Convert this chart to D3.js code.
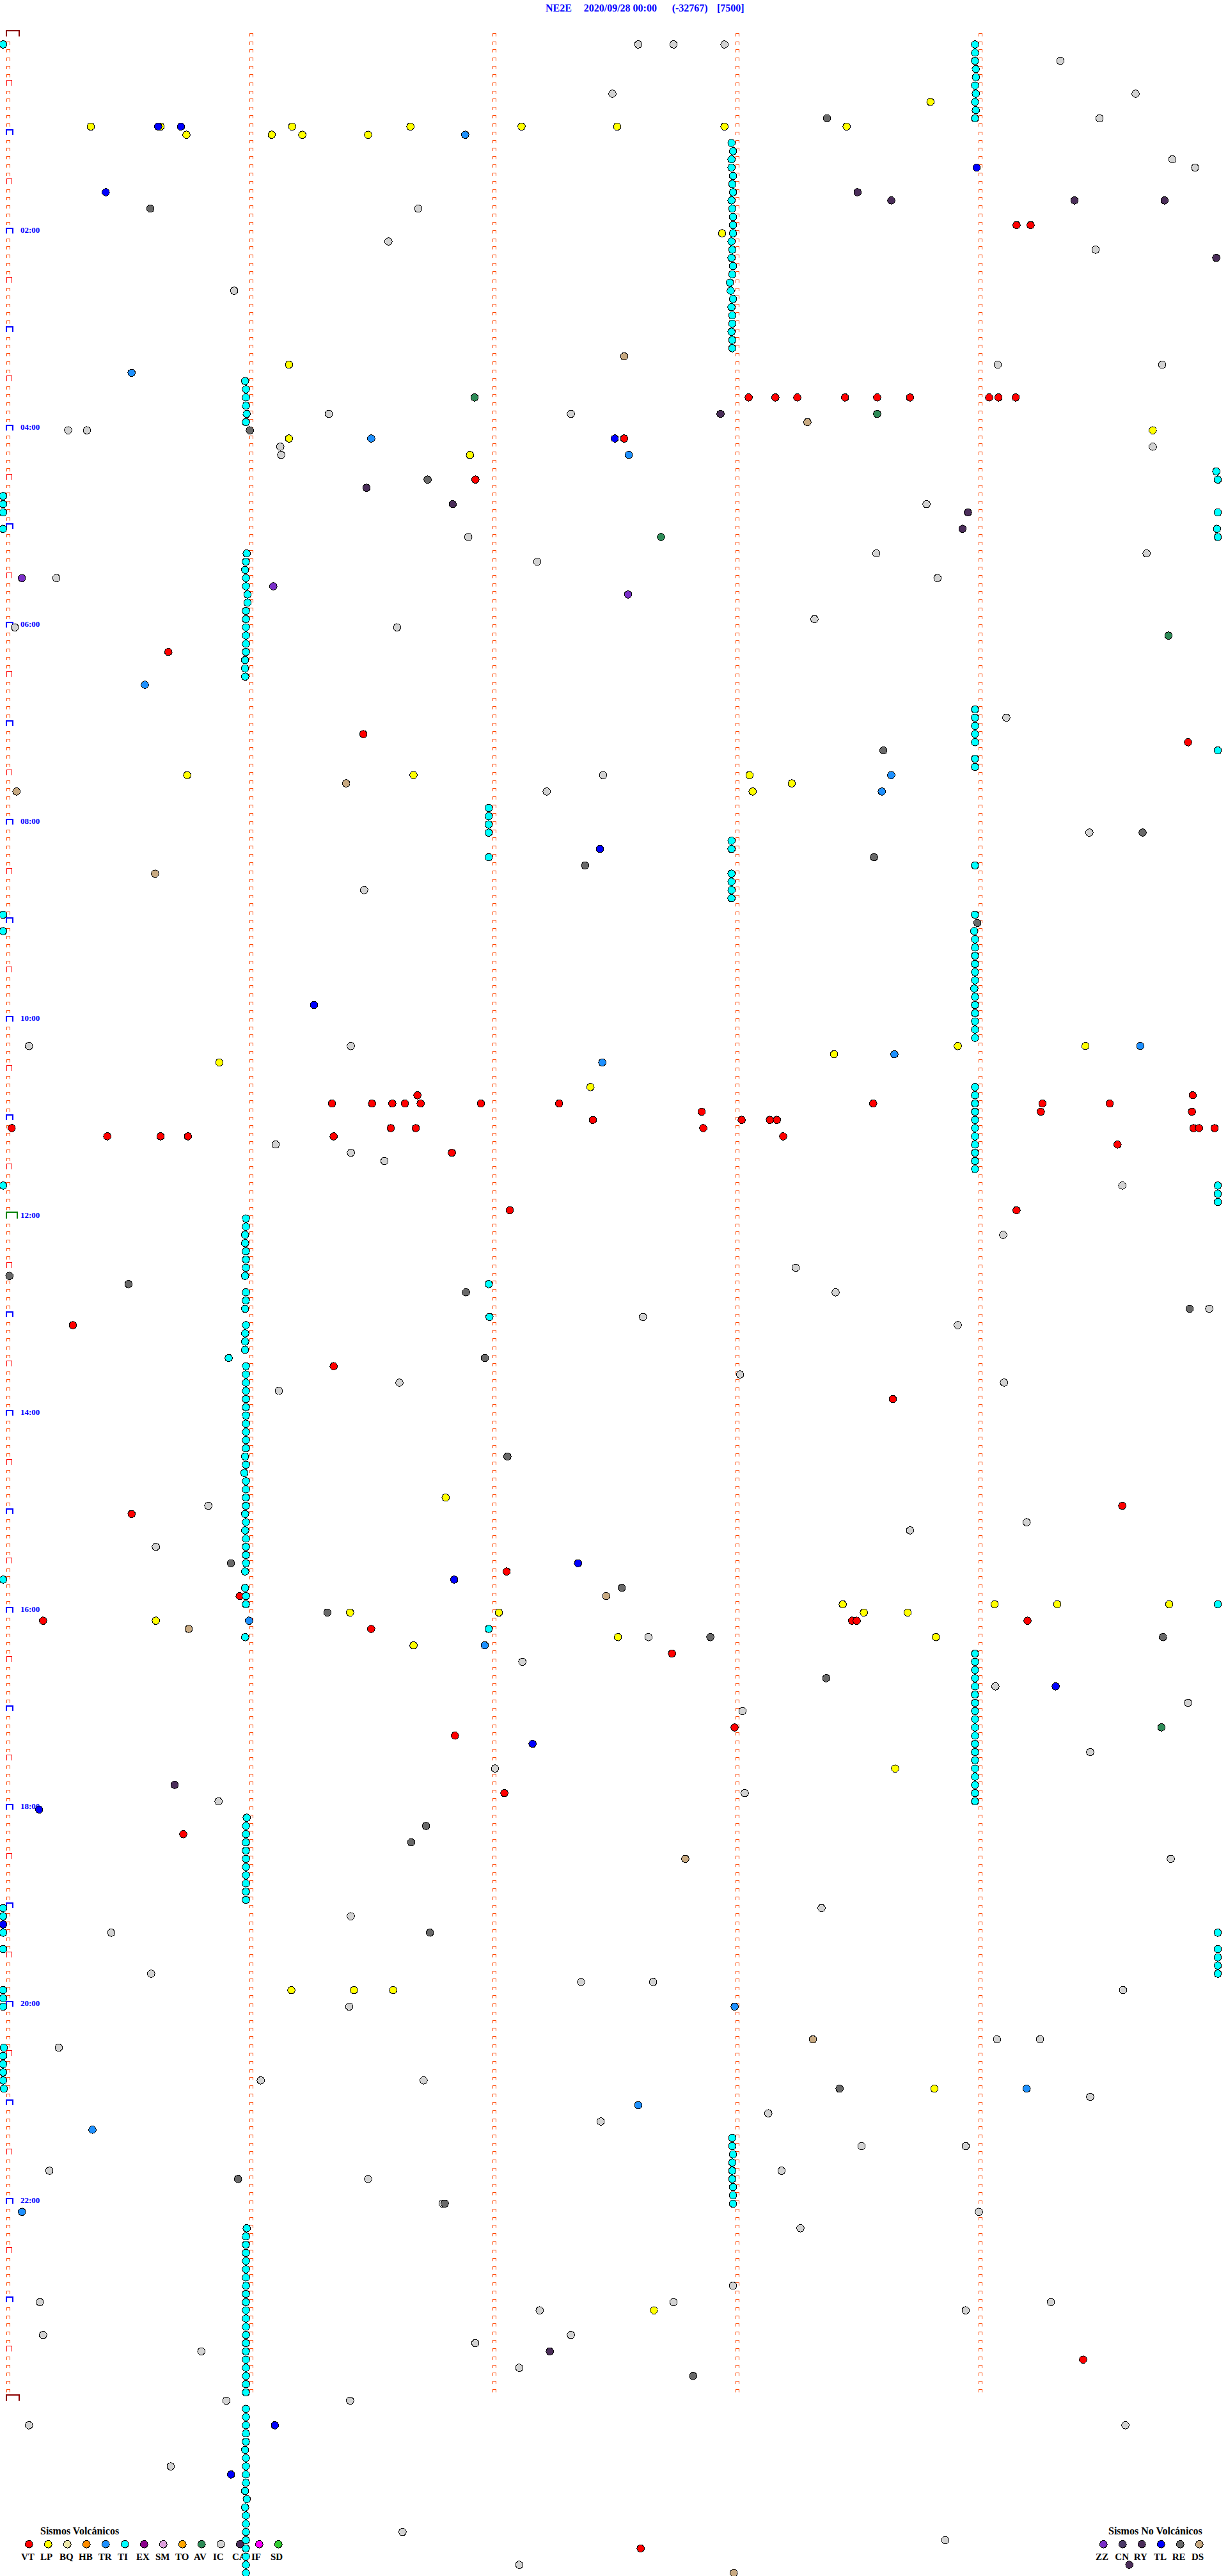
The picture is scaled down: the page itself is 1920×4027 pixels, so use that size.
<!DOCTYPE html>
<html><head><meta charset="utf-8">
<script src="https://cdn.jsdelivr.net/npm/d3@7/dist/d3.min.js"></script>
<style>html,body{margin:0;padding:0;background:#fff}svg{display:block}text{font-family:"Liberation Serif",serif}</style>
</head><body><div id="c"></div>
<script>
// Each event: [row (5-minute line index from 00:00), position along the line in reading units 0..1568]
const IC=[[0,815],[0,860],[0,925],[2,1354],[6,782],[6,1450],[9,1404],[14,1497],[15,1526],[20,534],[24,496],[25,1399],[30,299],[39,1274],[39,1484],[45,420],[45,729],[47,87],[47,111],[49,358],[49,1472],[50,359],[56,1183],[60,598],[62,1119],[62,1464],[63,686],[65,72],[65,1197],[70,1040],[71,19],[71,507],[82,1285],[89,770],[91,698],[96,1391],[103,465],[122,37],[122,448],[134,352],[135,448],[136,491],[139,1433],[145,1281],[149,1016],[152,1067],[154,1544],[155,821],[156,1223],[162,945],[163,510],[163,1282],[164,356],[178,266],[180,1311],[181,1162],[183,199],[194,828],[197,667],[200,1271],[202,1517],[203,948],[208,1392],[210,632],[213,951],[214,279],[221,1495],[227,1049],[228,448],[230,142],[235,193],[236,742],[236,834],[237,1434],[239,446],[243,1273],[243,1328],[244,75],[248,333],[248,541],[250,1392],[252,981],[253,767],[256,1100],[256,1233],[259,63],[259,998],[260,470],[263,565],[264,1250],[266,1022],[273,936],[275,51],[275,860],[275,1342],[276,689],[276,1233],[279,55],[279,729],[280,607],[281,257],[283,663],[287,289],[287,447],[290,37],[290,1437],[295,218],[303,514],[304,1207],[307,663]];
const LP=[[7,1188],[10,116],[10,205],[10,373],[10,524],[10,666],[10,788],[10,925],[10,1081],[11,238],[11,347],[11,386],[11,470],[23,922],[39,369],[47,1472],[48,369],[50,600],[89,239],[89,528],[89,957],[90,1011],[91,961],[122,1223],[122,1386],[123,1065],[124,280],[127,754],[177,569],[190,1076],[190,1270],[190,1350],[190,1493],[191,447],[191,637],[191,1103],[191,1159],[192,199],[194,789],[194,1195],[195,528],[210,1143],[237,372],[237,452],[237,502],[249,1193],[276,835]];
const VT=[[22,1298],[22,1316],[43,956],[43,990],[43,1018],[43,1079],[43,1120],[43,1162],[43,1263],[43,1275],[43,1297],[48,797],[53,607],[74,215],[84,464],[85,1517],[128,533],[128,1523],[129,424],[129,475],[129,501],[129,517],[129,537],[129,614],[129,714],[129,1115],[129,1331],[129,1417],[130,896],[130,1329],[130,1522],[131,757],[131,947],[131,983],[131,992],[132,15],[132,499],[132,531],[132,898],[132,1524],[132,1531],[132,1551],[133,137],[133,205],[133,240],[133,426],[133,1000],[134,1427],[135,577],[142,651],[142,1298],[156,93],[161,426],[165,1140],[178,1433],[179,168],[186,647],[189,306],[192,55],[192,1088],[192,1094],[192,1312],[193,474],[196,858],[205,938],[206,581],[213,644],[218,234],[282,1383],[305,818]];
const TI=[[0,4],[0,1245],[1,1245],[2,1245],[3,1246],[4,1246],[5,1245],[6,1246],[7,1245],[8,1246],[9,1245],
[12,934],[13,936],[14,934],[15,934],[16,936],[17,935],[18,936],[19,934],[20,935],[21,936],[22,936],[23,936],[24,934],[25,935],[26,934],[27,936],[28,935],[29,932],[30,933],[31,936],[32,934],[33,935],[34,935],[35,934],[36,935],[37,935],
[41,313],[42,314],[43,314],[44,314],[45,315],[46,314],[52,1553],[53,1555],[55,4],[56,4],[57,4],[57,1555],[59,4],[59,1554],[60,1555],
[62,315],[63,314],[64,313],[65,314],[66,314],[67,316],[68,316],[69,314],[70,314],[71,314],[72,314],[73,314],[74,314],[75,313],[76,313],[77,313],
[81,1245],[82,1245],[83,1245],[84,1245],[85,1245],[86,1555],[87,1245],[88,1245],[93,624],[94,624],[95,624],[96,624],[97,934],[98,934],[99,624],[100,1245],[101,934],[102,934],[103,934],[104,934],
[106,4],[106,1245],[108,4],[108,1244],[109,1245],[110,1245],[111,1245],[112,1245],[113,1245],[114,1245],[115,1244],[116,1245],[117,1245],[118,1245],[119,1245],[120,1245],[121,1245],
[127,1245],[128,1245],[129,1245],[130,1245],[131,1245],[132,1245],[133,1245],[134,1245],[135,1245],[136,1245],[137,1245],[139,4],[139,1555],[140,1555],[141,1555],
[143,314],[144,314],[145,313],[146,313],[147,314],[148,314],[149,314],[150,313],[151,624],[152,314],[153,314],[154,313],[155,625],[156,314],[157,313],[158,313],[159,313],[160,292],
[161,314],[162,314],[163,314],[164,314],[165,314],[166,314],[167,314],[168,314],[169,314],[170,314],[171,314],[172,313],[173,314],[174,312],[175,314],[176,314],[177,314],[178,314],[179,313],[180,314],[181,313],[182,314],[183,314],[184,314],[185,314],[186,313],[187,4],[188,313],[189,314],[190,314],[190,1555],[193,624],[194,313],
[196,1245],[197,1245],[198,1245],[199,1245],[200,1245],[201,1245],[202,1245],[203,1245],[204,1245],[205,1245],[206,1245],[207,1245],[208,1245],[209,1245],[210,1245],[211,1245],[212,1245],[213,1245],[214,1245],
[216,315],[217,314],[218,314],[219,314],[220,314],[221,314],[222,314],[223,314],[224,314],[225,314],[226,314],[227,4],[228,4],[230,4],[230,1555],[232,4],[232,1555],[233,1555],[234,1555],[235,1555],[237,4],[238,4],[239,4],[244,5],[245,4],[246,4],[247,4],[248,4],[249,5],
[255,935],[256,935],[257,936],[258,935],[259,935],[260,935],[261,936],[262,936],[263,936],
[266,315],[267,314],[268,314],[269,314],[270,314],[271,314],[272,314],[273,314],[274,314],[275,314],[276,314],[277,314],[278,314],[279,314],[280,314],[281,314],[282,314],[283,314],[284,314],[285,314],[286,314],
[288,314],[289,314],[290,314],[291,314],[292,314],[293,313],[294,314],[295,314],[296,314],[297,314],[298,313],[299,315],[300,313],[301,314],[302,314],[303,314],[304,314],[305,314],[306,314],[307,314],[308,314]];
const TR=[[11,594],[40,168],[48,474],[50,803],[78,185],[89,1138],[91,1126],[122,1456],[123,1142],[124,769],[192,318],[195,619],[239,938],[249,1311],[251,815],[254,118],[264,28]];
const AV=[[43,606],[45,1120],[60,844],[72,1492],[205,1483]];
const RY=[[18,1095],[19,1138],[19,1372],[19,1487],[26,1553],[45,920],[54,468],[56,578],[57,1236],[59,1229],[212,223],[281,702],[307,1442]];
const ZZ=[[65,28],[66,349],[67,802]];
const TL=[[10,202],[10,231],[15,1247],[18,135],[48,785],[98,766],[117,401],[185,738],[187,580],[200,1348],[207,680],[215,50],[229,4],[290,351],[296,295]];
const RE=[[9,1056],[20,192],[47,319],[53,546],[86,1128],[96,1459],[99,1116],[100,747],[107,1248],[150,12],[151,164],[152,595],[154,1519],[160,619],[172,648],[185,295],[188,794],[191,418],[194,907],[194,1485],[199,1055],[217,544],[219,525],[230,549],[249,1072],[260,304],[263,568],[284,885]];
const DS=[[38,797],[46,1031],[90,442],[91,21],[101,198],[189,774],[193,241],[221,875],[243,1038],[308,937]];

const volcNames=["VT","LP","BQ","HB","TR","TI","EX","SM","TO","AV","IC","CA","IF","SD"];
const volcColors=["#ff0000","#ffff00","#eee8aa","#ff8c00","#1e90ff","#00ffff","#8b008b","#dda0dd","#ffa500","#2e8b57","#d3d3d3","#4b2e5a","#ff00ff","#32cd32"];
const tectNames=["ZZ","CN","RY","TL","RE","DS"];
const tectColors=["#7a2fc8","#4b3a68","#4b2e5a","#0000ff","#696969","#c8aa82"];
const minuteMarks=[10.6,320.9,631.3,941.6,1251.9];
const rowCount=288;
const titleParts=[["NE2E",853],["2020/09/28 00:00",912.7],["(-32767)",1050.7],["[7500]",1121]];

const W=1920,H=4027;
const xScale=d3.scaleLinear().domain([0,1568]).range([0,W]);
const yScale=d3.scaleLinear().domain([0,rowCount]).range([69.5,3765.7]);
const svg=d3.select("#c").append("svg").attr("width",W).attr("height",H).attr("viewBox",[0,0,W,H]);

// title
svg.append("g").selectAll("text").data(titleParts).join("text")
 .attr("x",d=>d[1]).attr("y",18).attr("fill","#0000ff").attr("font-size",16).attr("font-weight","bold").text(d=>d[0]);

// minute marks
const rows=d3.range(0,rowCount+1);
const tickTop=k=>Math.round(yScale(k)-17.8);
const gt=svg.append("g").attr("fill","none");
minuteMarks.forEach((m,i)=>{
  const c=Math.round(xScale(m));
  gt.append("g").selectAll("path").data(rows.filter(k=>{
    if(k===rowCount) return false;
    return i>0 || k%6!==0;
  })).join("path")
   .attr("stroke","#ff4500").attr("stroke-width",1).attr("shape-rendering","crispEdges")
   .attr("d",k=>`M${c-3+.5},${tickTop(k)+5}V${tickTop(k)+.5}H${c+2+.5}V${tickTop(k)+5}`);
});
const c0=Math.round(xScale(minuteMarks[0]));
gt.append("g").selectAll("path").data(rows.filter(k=>k%12===6)).join("path")
  .attr("stroke","#ff0000").attr("shape-rendering","crispEdges")
  .attr("d",k=>{const t=tickTop(k)-4;return `M${c0-3+.5},${t+9}V${t+.5}H${c0+5+.5}V${t+9}`;});
gt.append("g").selectAll("path").data(rows.filter(k=>k%12===0&&k!==0&&k!==144&&k!==rowCount)).join("path")
  .attr("stroke","#0000ff").attr("stroke-width",2).attr("shape-rendering","crispEdges")
  .attr("d",k=>{const t=tickTop(k)-4;return `M${c0-3},${t+9}V${t+1}H${c0+7}V${t+9}`;});
gt.append("path").attr("stroke","#008000").attr("stroke-width",2).attr("shape-rendering","crispEdges")
  .attr("d",()=>{const t=tickTop(144)-6;return `M${c0-3},${t+11}V${t+1}H${c0+14}V${t+11}`;});
gt.append("g").selectAll("path").data([0,rowCount]).join("path")
  .attr("stroke","#8b0000").attr("stroke-width",2).attr("shape-rendering","crispEdges")
  .attr("d",k=>{const t=tickTop(k)-5;return `M${c0-3},${t+10}V${t+1}H${c0+17}V${t+10}`;});

// time labels
svg.append("g").selectAll("text").data(rows.filter(k=>k%24===0&&k!==0&&k!==rowCount)).join("text")
 .attr("x",32).attr("y",k=>tickTop(k)+4).attr("fill","#0000ff").attr("font-size",13).attr("font-weight","bold")
 .text(k=>d3.format("02")(k/12)+":00");

// legends
function legend(names,colors,dotXs,labelXs,title,titleX){
  const g=svg.append("g");
  g.append("text").attr("x",titleX).attr("y",3962).attr("font-size",16).attr("font-weight","bold").attr("fill","#000").text(title);
  g.selectAll("circle").data(names).join("circle").attr("cx",(d,i)=>dotXs[i]).attr("cy",3977.3).attr("r",5.8)
   .attr("fill",(d,i)=>colors[i]).attr("stroke","#000").attr("stroke-width",1).attr("shape-rendering","crispEdges");
  g.selectAll("text.l").data(names).join("text").attr("class","l").attr("x",(d,i)=>labelXs[i]).attr("y",4002)
   .attr("font-size",15).attr("font-weight","bold").attr("fill","#000").text(d=>d);
}
legend(volcNames,volcColors,volcNames.map((d,i)=>45.3+30*i),[33,63,93,123,153.7,184,213,243,274,303,333,363,393,423],"Sismos Volcánicos",63);
legend(tectNames,tectColors,tectNames.map((d,i)=>1725.3+30*i),[1713,1743.3,1772.7,1804,1832.7,1863],"Sismos No Volcánicos",1733);

// events, in drawing order
const series=[[IC,"#d3d3d3"],[DS,"#c8aa82"],[LP,"#ffff00"],[VT,"#ff0000"],[TI,"#00ffff"],[TR,"#1e90ff"],[AV,"#2e8b57"],[ZZ,"#7a2fc8"],[RY,"#4b2e5a"],[RE,"#696969"],[TL,"#0000ff"]];
const ge=svg.append("g");
series.forEach(([data,color])=>{
  ge.append("g").selectAll("circle").data(data).join("circle")
   .attr("cx",d=>xScale(d[1])).attr("cy",d=>yScale(d[0])).attr("r",5.8)
   .attr("fill",color).attr("stroke","#000").attr("stroke-width",1).attr("shape-rendering","crispEdges");
});
</script></body></html>
